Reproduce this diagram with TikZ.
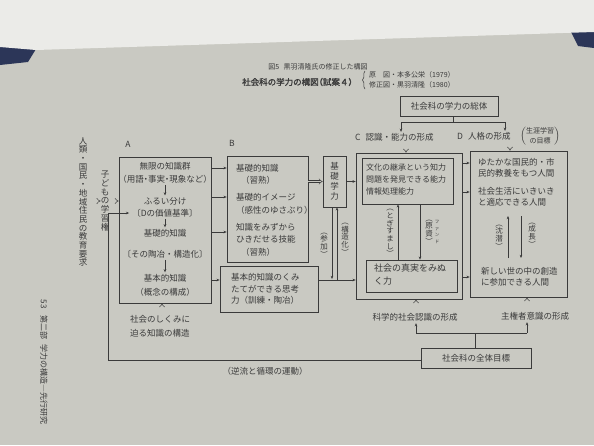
\documentclass[tikz,border=0pt]{standalone}
\usepackage{fontspec}
\setmainfont{Noto Sans CJK JP}[AutoFakeBold=1.5]
\newfontfamily\jph{Noto Sans CJK JP}[RawFeature=+halt,AutoFakeBold=1.5]
\usetikzlibrary{arrows.meta,decorations.pathreplacing}
\definecolor{pagec}{HTML}{C9C9C2}
\definecolor{sheetc}{HTML}{EBEBE8}
\definecolor{navyc}{HTML}{2C3658}
\definecolor{inkc}{HTML}{3A3A3A}
\newcommand{\fM}{\fontsize{8.5}{11.5}\selectfont}
\newcommand{\fS}{\fontsize{7}{9.5}\selectfont}
\newcommand{\fV}{\fontsize{7.5}{7.7}\selectfont}
\newcommand{\fVM}{\fontsize{8.5}{8.7}\selectfont}
\begin{document}
\begin{tikzpicture}[x=1pt,y=-1pt,
 box/.style={draw=inkc, line width=0.6pt, inner sep=0pt},
 txt/.style={text=inkc, inner sep=0pt, font=\fM},
 ln/.style={draw=inkc, line width=0.5pt},
 arr/.style={draw=inkc, line width=0.5pt, -{Stealth[length=3.2pt,width=2.6pt]}},
 dbl/.style={draw=inkc, line width=0.45pt, double=pagec, double distance=1.6pt, -{Implies}},
]
% background
\fill[pagec] (0,0) rectangle (594,445);
\useasboundingbox (0,0) rectangle (594,445);
\fill[navyc] (0,44) -- (36,49) -- (28,62) -- (0,65) -- cycle;
\fill[navyc] (570,30) -- (594,28) -- (594,48) -- (578,46) -- cycle;
\fill[sheetc] (0,0) -- (594,0) -- (594,32) -- (36,50) -- (0,47) -- cycle;

% titles
\node[txt, font=\fS] (fig) at (318,67) {図5\hspace{0.6em}黒羽清隆氏の修正した構図};
\node[txt, font=\fontsize{8.5}{10}\jph\bfseries, anchor=west] (ttl) at (242,82) {社会科の学力の構図（試案４）};
\draw[ln, decorate, decoration={brace, amplitude=2.5pt}] (365,89) -- (365,71);
\node[txt, font=\fS, anchor=west] (orig) at (369,75) {原\hspace{1em}図・本多公栄（1979）};
\node[txt, font=\fS, anchor=west] (rev) at (369,85) {修正図・黒羽清隆（1980）};

% top box
\node[box, text=inkc, font=\fM, minimum width=98pt, minimum height=20pt] (sotai) at (449,106) {社会科の学力の総体};
\node[txt, anchor=west] (Clab) at (355,137) {C\hspace{5pt}認識・能力の形成};
\node[txt, anchor=west] (Dlab) at (457,136) {D\hspace{5pt}人格の形成};
\node[txt, font=\fS] (life) at (540,136) {$\left(\vcenter{\hbox{\shortstack{生涯学習\\の目標}}}\right)$};
\coordinate (j0) at (453,122);
\coordinate (jC) at (401,122);
\coordinate (jD) at (505,122);
\draw[ln] (sotai.south -| j0) -- (j0);
\draw[ln] (jC) -- (jD);
\draw[arr, shorten >=1pt] (jC) -- (Clab.north -| jC);
\draw[arr, shorten >=1pt] (jD) -- (Dlab.north -| jD);

% left texts
\node[txt, font=\fVM, align=center] (req) at (83,202) {人\\類\\・\\国\\民\\・\\地\\域\\住\\民\\の\\教\\育\\要\\求};
\node[txt, font=\fVM, align=center] (kid) at (105,201) {子\\ど\\も\\の\\学\\習\\権};

% boxes
\node[box, minimum width=92pt, minimum height=146pt] (A) at (165,230) {};
\node[box, minimum width=81pt, minimum height=106pt] (Bt) at (267.5,209) {};
\node[box, minimum width=98pt, minimum height=46pt] (Bb) at (269,289) {};
\node[box, minimum width=23pt, minimum height=51pt] (K) at (334.5,181.5) {};
\node[box, minimum width=106pt, minimum height=146pt] (Co) at (409,226) {};
\node[box, minimum width=91pt, minimum height=46pt] (Ct) at (407.5,181) {};
\node[box, minimum width=91pt, minimum height=32pt] (Cb) at (411.5,276) {};
\node[box, minimum width=97pt, minimum height=146pt] (D) at (518.5,224) {};
\node[box, minimum width=110pt, minimum height=20pt, text=inkc, font=\fM] (Z) at (476,358) {社会科の全体目標};

\draw[dbl, shorten <=1pt] (req.east |- kid.west) -- (kid.west);
\draw[dbl, shorten <=1pt] (kid.east) -- (A.west |- kid.east);

\draw[dbl] (Clab.south -| 406,0) -- (Co.north -| 406,0);
\draw[dbl] (Dlab.south -| 510,0) -- (D.north -| 510,0);

% labels A B
\node[txt] (Al) at (128,144) {A};
\node[txt] (Bl) at (232,143) {B};

% A contents
\node[txt] (a1) at (165,166) {無限の知識群};
\node[txt, font=\jph\fM] (a2) at (165,179) {（用語・事実・現象など）};
\node[txt] (a3) at (165,201) {ふるい分け};
\node[txt] (a4) at (165,213) {〔Dの価値基準〕};
\node[txt] (a5) at (165,233) {基礎的知識};
\node[txt] (a6) at (165,254) {〔その陶冶・構造化〕};
\node[txt] (a7) at (165,278) {基本的知識};
\node[txt] (a8) at (165,292) {（概念の構成）};
\draw[arr, shorten <=1.5pt, shorten >=1.5pt] (a2.south) -- (a3.north);
\draw[arr, shorten <=1.5pt, shorten >=1.5pt] (a4.south) -- (a5.north);
\draw[arr, shorten <=1.5pt, shorten >=1.5pt] (a6.south) -- (a7.north);

% B contents
\node[txt, anchor=west] (b1) at (236,168) {基礎的知識};
\node[txt, anchor=west] (b2) at (241,180) {（習熟）};
\node[txt, anchor=west] (b3) at (236,197) {基礎的イメージ};
\node[txt, anchor=west] (b4) at (236,210) {（感性のゆさぶり）};
\node[txt, anchor=west] (b5) at (236,227) {知識をみずから};
\node[txt, anchor=west] (b6) at (236,239) {ひきだせる技能};
\node[txt, anchor=west] (b7) at (241,252) {（習熟）};
\node[txt, align=left, anchor=west] (bb) at (231,289) {基本的知識のくみ\\たてができる思考\\力（訓練・陶冶）};

\draw[arr] (A.east |- 0,168) -- (Bt.west |- 0,168);
\draw[arr] (A.east |- 0,197) -- (Bt.west |- 0,197);
\draw[arr] (A.east |- 0,232) -- (Bt.west |- 0,232);
\draw[arr] (A.east |- 0,280) -- (Bb.west |- 0,280);

% kiso gakuryoku
\node[txt, align=center, font=\fontsize{8.5}{10}\selectfont] (kt) at (K.center) {基\\礎\\学\\力};
\draw[dbl] (Bt.east |- K.west) -- (K.west);
\draw[arr] (K.east) -- (Co.west |- K.east);
\coordinate (pk) at (332,279);
\coordinate (kz) at (337,280);
\draw[arr] (K.south -| pk) -- (pk);
\draw[arr] (kz) -- (K.south -| kz);
\node[txt, font=\fV, align=center] (sanka) at (324,245) {︵\\参\\加\\︶};
\node[txt, font=\fV, align=center] (kozo) at (345,239) {︵\\構\\造\\化\\︶};
\draw[arr] (Bb.east |- kz) -- (Co.west |- kz);

% C contents
\node[txt, font=\fontsize{8}{12}\selectfont, align=left, anchor=west] (ct) at (366,179) {文化の継承という知力\\問題を発見できる能力\\情報処理能力};
\node[txt, font=\fontsize{9}{13}\selectfont, align=left, anchor=north west] (cb) at (374,264) {社会の真実をみぬ\\く力};
\coordinate (tg) at (398,0);
\coordinate (gs) at (420,0);
\draw[arr] (Cb.north -| tg) -- (Ct.south -| tg);
\draw[arr] (Ct.south -| gs) -- (Cb.north -| gs);
\node[txt, font=\fV, align=center] (tog) at (390,233) {︵\\と\\ぎ\\す\\ま\\し\\︶};
\node[txt, font=\fV, align=center] (gen) at (429,232) {︵\\原\\資\\︶};
\node[txt, font=\fontsize{4.5}{6.5}\selectfont, align=center] (fund) at (437,232) {フ\\ァ\\ン\\ド};

% C to D
\draw[arr] (Co.east |- 0,163) -- (D.west |- 0,163);
\draw[arr] (Co.east |- 0,192) -- (D.west |- 0,192);
\draw[arr] (Co.east |- 0,277) -- (D.west |- 0,277);

% D contents
\node[txt, align=left, anchor=west] (d1) at (478,168) {ゆたかな国民的・市\\民的教養をもつ人間};
\node[txt, align=left, anchor=west] (d2) at (478,197) {社会生活にいきいき\\と適応できる人間};
\node[txt, align=left, anchor=west] (d3) at (481,277) {新しい世の中の創造\\に参加できる人間};
\coordinate (s1) at (508,258);
\coordinate (s2) at (508,216);
\coordinate (g1) at (521,216);
\coordinate (g2) at (521,258);
\draw[arr] (s1) -- (s2);
\draw[arr] (g1) -- (g2);
\node[txt, font=\fV, align=center] (chin) at (499,237) {︵\\沈\\潜\\︶};
\node[txt, font=\fV, align=center] (sei) at (532,235) {︵\\成\\長\\︶};

% below A
\node[txt, font=\fontsize{8.5}{14}\selectfont, align=left, anchor=north west] (shk) at (130,315) {社会のしくみに\\迫る知識の構造};
\draw[dbl] (shk.north -| 162,0) -- (A.south -| 162,0);

% bottom
\node[txt] (Slab) at (415,317) {科学的社会認識の形成};
\node[txt] (Plab) at (535,316) {主権者意識の形成};
\draw[dbl] (Slab.north -| 416,0) -- (Co.south -| 416,0);
\draw[dbl] (Plab.north -| 527,0) -- (D.south -| 527,0);
\coordinate (hb) at (475,333);
\coordinate (hL) at (416,333);
\coordinate (hR) at (527,333);
\draw[ln] (Z.north -| hb) -- (hb);
\draw[ln] (hL) -- (hR);
\draw[arr, shorten >=2pt] (hL) -- (Slab.south -| hL);
\draw[arr, shorten >=2pt] (hR) -- (Plab.south -| hR);

% loop
\coordinate (lpB) at (108,360);
\coordinate (lpT) at (108,213);
\draw[arr, shorten >=3pt] (Z.west |- lpB) -- (lpB) -- (lpT) -- (a4.west);
\node[txt] (loopl) at (265,371) {（逆流と循環の運動）};

% page header in margin
\node[txt, font=\fontsize{8}{9}\selectfont, rotate=-90] (pg) at (44,362) {53\hspace{0.8em}第二部\hspace{0.6em}学力の構造―先行研究};
\end{tikzpicture}
\end{document}
